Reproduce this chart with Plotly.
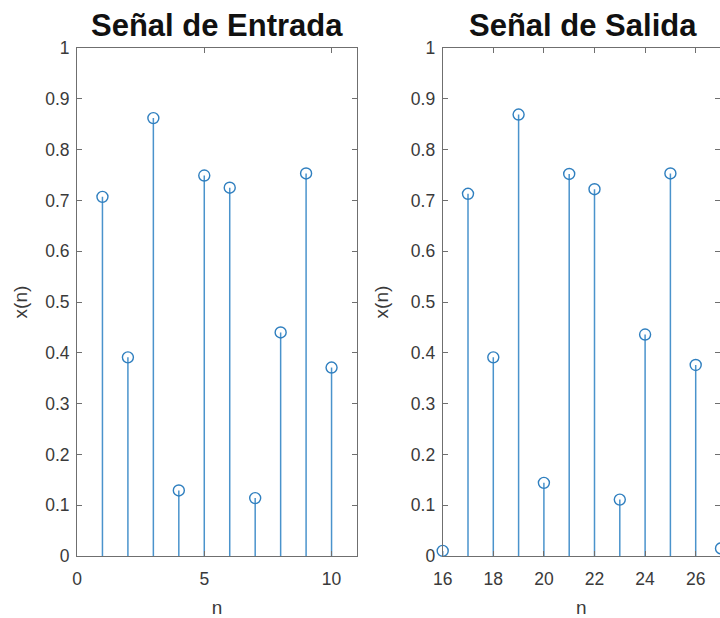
import plotly.graph_objects as go

# ---- data ----
n_in = [1, 2, 3, 4, 5, 6, 7, 8, 9, 10]
x_in = [0.707, 0.391, 0.862, 0.129, 0.749, 0.725, 0.114, 0.440, 0.753, 0.371]

n_out = [16, 17, 18, 19, 20, 21, 22, 23, 24, 25, 26, 27]
x_out = [0.010, 0.713, 0.391, 0.869, 0.144, 0.752, 0.722, 0.111, 0.436, 0.753, 0.376, 0.015]

titles = ["Señal de Entrada", "Señal de Salida"]
y_ticks = [0, 0.1, 0.2, 0.3, 0.4, 0.5, 0.6, 0.7, 0.8, 0.9, 1]
y_ticklabels = ["0", "0.1", "0.2", "0.3", "0.4", "0.5", "0.6", "0.7", "0.8", "0.9", "1"]
x_ticks_in = [0, 5, 10]
x_ticks_out = [16, 18, 20, 22, 24, 26]

STEM = "#4a93cc"
MARK = "#2f7fbf"
AX = "#6f6f6f"
TXT = "#3a3a3a"
FONT = "Liberation Sans, Arial, sans-serif"

W, H = 720, 618

y0 = (H - 556) / H
y1 = (H - 48) / H
left_dom = [77 / W, 357 / W]
left_range = [0, 11]
right_dom = [442.7 / W, 1.0]
px_per_unit = 25.3
right_range = [16, 16 + (W - 442.7) / px_per_unit]


def stem_xy(ns, vs):
    xs, ys = [], []
    for n, v in zip(ns, vs):
        xs += [n, n, None]
        ys += [0, v, None]
    return xs, ys


marker_style = dict(symbol="circle-open", size=11, color=MARK, line=dict(width=1.4, color=MARK))

fig = go.Figure()
for i, (ns, vs, rng) in enumerate([(n_in, x_in, left_range), (n_out, x_out, right_range)]):
    xa = "x" if i == 0 else "x2"
    ya = "y" if i == 0 else "y2"
    sx, sy = stem_xy(ns, vs)
    fig.add_trace(go.Scatter(x=sx, y=sy, mode="lines", line=dict(color=STEM, width=1.5),
                             xaxis=xa, yaxis=ya, showlegend=False, hoverinfo="skip", cliponaxis=True))
    inside = [(n, v) for n, v in zip(ns, vs) if rng[0] <= n <= rng[1]]
    outside = [(n, v) for n, v in zip(ns, vs) if not (rng[0] <= n <= rng[1])]
    if inside:
        fig.add_trace(go.Scatter(x=[p[0] for p in inside], y=[p[1] for p in inside], mode="markers",
                                 marker=marker_style, xaxis=xa, yaxis=ya, showlegend=False,
                                 cliponaxis=False))
    if outside:
        # points past the visible edge: drawn on an overlaid subplot so they get clipped at the edge
        fig.add_trace(go.Scatter(x=[p[0] for p in outside], y=[p[1] for p in outside], mode="markers",
                                 marker=marker_style, xaxis="x3", yaxis="y3", showlegend=False,
                                 cliponaxis=True))

common_ax = dict(showline=True, linecolor=AX, linewidth=1, mirror="ticks", ticks="inside",
                 ticklen=5, tickcolor=AX, showgrid=False, zeroline=False, automargin=False,
                 tickfont=dict(family=FONT, size=17.5, color=TXT))
lab_font = dict(family=FONT, size=19, color=TXT)
hidden_ax = dict(visible=False, showgrid=False, zeroline=False, automargin=False)

fig.update_layout(
    width=W, height=H, margin=dict(l=0, r=0, t=0, b=0),
    paper_bgcolor="white", plot_bgcolor="white",
    font=dict(family=FONT),
    xaxis=dict(domain=left_dom, range=left_range, tickvals=x_ticks_in, anchor="y",
               ticklabelstandoff=7,
               title=dict(text="n", font=lab_font, standoff=13),
               **common_ax),
    yaxis=dict(domain=[y0, y1], range=[0, 1], tickvals=y_ticks, ticktext=y_ticklabels, anchor="x",
               ticklabelstandoff=3,
               title=dict(text="x(n)", font=lab_font, standoff=12),
               **common_ax),
    xaxis2=dict(domain=right_dom, range=right_range, tickvals=x_ticks_out, anchor="y2",
                ticklabelstandoff=7,
                title=dict(text="n", font=lab_font, standoff=13),
                **common_ax),
    yaxis2=dict(domain=[y0, y1], range=[0, 1], tickvals=y_ticks, ticktext=y_ticklabels, anchor="x2",
                ticklabelstandoff=3,
                title=dict(text="x(n)", font=lab_font, standoff=17),
                **common_ax),
    xaxis3=dict(domain=right_dom, range=right_range, anchor="y3", overlaying="x2", **hidden_ax),
    yaxis3=dict(domain=[y0, y1], range=[0, 1], anchor="x3", overlaying="y2", **hidden_ax),
    annotations=[
        dict(text="<b>%s</b>" % titles[0], x=(77 + 357) / 2 / W, y=1 - 25 / H, xref="paper", yref="paper",
             showarrow=False, xanchor="center", yanchor="middle",
             font=dict(family=FONT, size=31, color="#111111")),
        dict(text="<b>%s</b>" % titles[1], x=582.6 / W, y=1 - 25 / H, xref="paper", yref="paper",
             showarrow=False, xanchor="center", yanchor="middle",
             font=dict(family=FONT, size=31, color="#111111")),
    ],
)

fig.write_html("out.html")
